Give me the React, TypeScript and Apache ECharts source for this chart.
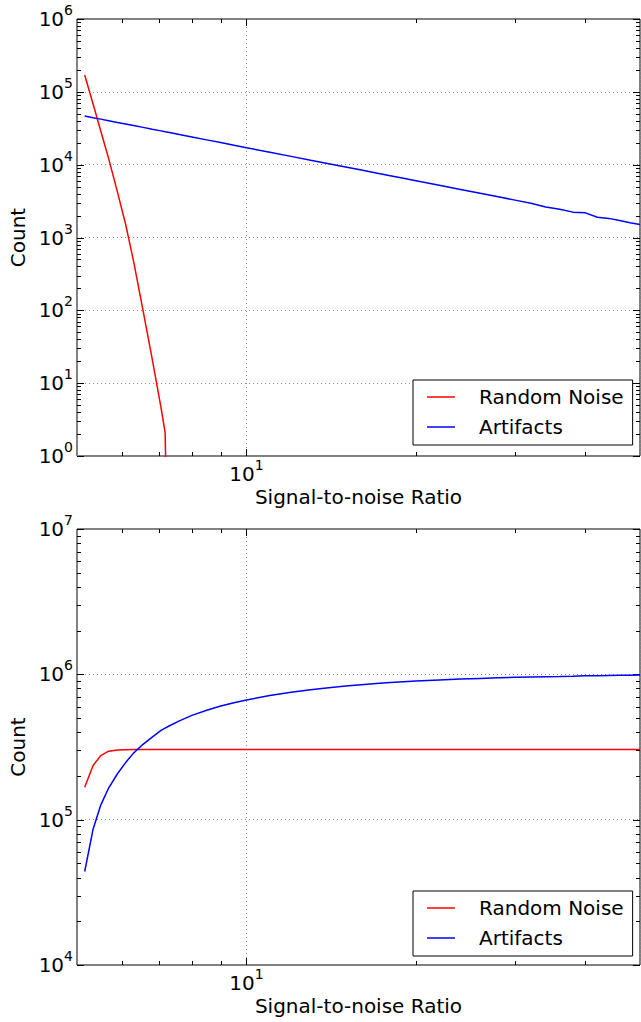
import React, { useEffect, useRef } from 'react';
import * as echarts from 'echarts';

// ---- data ----
const snr = [5.16, 5.34, 5.51, 5.69, 5.9, 6.1, 6.3, 6.55, 6.8, 7.05, 7.17, 7.3, 7.6, 8, 8.5, 9, 9.5, 10, 11, 12, 13, 14, 15, 16, 17, 18, 19, 20, 22, 24, 26, 28, 30, 32, 34, 36, 38, 40, 42, 44, 46, 48, 50];

// top panel: counts per SNR bin
const topNoise = [170000, 68000, 29000, 12200, 4200, 1520, 476, 100, 21.5, 4.6, 2.1, 0];
const topArtifacts = [46600, 44200, 42200, 40200, 38000, 36200, 34500, 32500, 30700, 29100, 28300, 27600, 25900, 24000, 21900, 20100, 18500, 17100, 14800, 13000, 11500, 10300, 9290, 8430, 7690, 7050, 6500, 6010, 5210, 4570, 4050, 3620, 3260, 2960, 2620, 2440, 2230, 2180, 1900, 1830, 1710, 1590, 1510];

// bottom panel: cumulative counts
const bottomNoise = [167000, 236000, 276000, 296000, 301000, 303000, 303500, 304000, 304000, 304000, 304000, 304000, 304000, 304000, 304000, 304000, 304000, 304000, 304000, 304000, 304000, 304000, 304000, 304000, 304000, 304000, 304000, 304000, 304000, 304000, 304000, 304000, 304000, 304000, 304000, 304000, 304000, 304000, 304000, 304000, 304000, 304000, 304000];
const bottomArtifacts = [44000, 86000, 126000, 165000, 207000, 247000, 287000, 330000, 370000, 411000, 427000, 443000, 478000, 522000, 566000, 605000, 638000, 667000, 714000, 753000, 784000, 810000, 831000, 849000, 864000, 877000, 888000, 898000, 914000, 927000, 937000, 946000, 953000, 959000, 964000, 968000, 972000, 976000, 979000, 982000, 984000, 986000, 988000];

const seriesNames = ['Random Noise', 'Artifacts'];
const xRange = [5, 50];
const topYRange = [1, 1e6];
const bottomYRange = [1e4, 1e7];
const xMajorTicks = [10];
const xMinorTicks = [6, 7, 8, 9, 20, 30, 40];
const yMantissas = [2, 3, 4, 5, 6, 7, 8, 9];
const topDecades = [0, 1, 2, 3, 4, 5, 6];
const bottomDecades = [4, 5, 6, 7];

const FONT = '"DejaVu Sans", sans-serif';
const RED = '#ff0000';
const BLUE = '#0000ff';

function pairs(xs: number[], ys: number[]) {
  return ys.map((v, i) => [xs[i], v > 0 ? v : 1e-3]);
}

function yTickData(decades: number[], xMin: number) {
  const out: number[][] = [];
  decades.forEach((e, i) => {
    out.push([xMin, Math.pow(10, e), 1]);
    if (i < decades.length - 1) {
      yMantissas.forEach((m) => out.push([xMin, m * Math.pow(10, e), 0]));
    }
  });
  return out;
}

function xTickData(yMin: number) {
  return [
    ...xMajorTicks.map((v) => [v, yMin, 1]),
    ...xMinorTicks.map((v) => [v, yMin, 0]),
  ];
}

const tickStyle = { stroke: '#000', lineWidth: 1 };

function renderXTick(params: any, api: any) {
  const cs = params.coordSys;
  const x = Math.round(api.coord([api.value(0), api.value(1)])[0]) + 0.5;
  const len = api.value(2) ? 7 : 4;
  const b = cs.y + cs.height;
  return {
    type: 'group',
    children: [
      { type: 'line', shape: { x1: x, y1: b, x2: x, y2: b - len }, style: tickStyle },
      { type: 'line', shape: { x1: x, y1: cs.y, x2: x, y2: cs.y + len }, style: tickStyle },
    ],
  };
}

function renderYTick(params: any, api: any) {
  const cs = params.coordSys;
  const y = Math.round(api.coord([api.value(0), api.value(1)])[1]) + 0.5;
  const len = api.value(2) ? 7 : 4;
  const r = cs.x + cs.width;
  return {
    type: 'group',
    children: [
      { type: 'line', shape: { x1: cs.x, y1: y, x2: cs.x + len, y2: y }, style: tickStyle },
      { type: 'line', shape: { x1: r, y1: y, x2: r - len, y2: y }, style: tickStyle },
    ],
  };
}

const rich = {
  b: { fontSize: 20, fontFamily: FONT, color: '#000' },
  s: { fontSize: 14, fontFamily: FONT, color: '#000', padding: [0, 0, 18, 0] },
};

function powFormatter(v: number) {
  const e = Math.log10(v);
  const r = Math.round(e);
  if (Math.abs(e - r) > 1e-6) return '';
  return `{b|10}{s|${r}}`;
}

const gridLine = { show: true, lineStyle: { color: '#8c8c8c', width: 1, type: [1, 3] } };
const nameStyle = { fontSize: 20, fontFamily: FONT, color: '#000' };

function xAxisCfg(gridIndex: number) {
  return {
    type: 'log',
    logBase: 10,
    gridIndex,
    min: xRange[0],
    max: xRange[1],
    name: 'Signal-to-noise Ratio',
    nameLocation: 'middle',
    nameGap: 31,
    nameMoveOverlap: false,
    nameTextStyle: nameStyle,
    axisLine: { show: false },
    axisTick: { show: false },
    axisLabel: { formatter: powFormatter, rich, margin: 2, showMinLabel: false, showMaxLabel: false },
    splitLine: gridLine,
  };
}

function yAxisCfg(gridIndex: number, range: number[]) {
  return {
    type: 'log',
    logBase: 10,
    gridIndex,
    min: range[0],
    max: range[1],
    name: 'Count',
    nameLocation: 'middle',
    nameRotate: 90,
    nameGap: 49,
    nameMoveOverlap: false,
    nameTextStyle: nameStyle,
    axisLine: { show: false },
    axisTick: { show: false },
    axisLabel: { formatter: powFormatter, rich, margin: 4 },
    splitLine: gridLine,
  };
}

function legendCfg(top: number) {
  return {
    data: seriesNames,
    orient: 'vertical',
    left: 413,
    top,
    icon: 'rect',
    itemWidth: 28,
    itemHeight: 1.5,
    itemGap: 10,
    padding: [7, 9, 8, 14],
    backgroundColor: '#fff',
    borderColor: '#000',
    borderWidth: 1,
    borderRadius: 0,
    textStyle: { fontSize: 20, fontFamily: FONT, color: '#000', lineHeight: 20, padding: [0, 0, 0, 19] },
  };
}

function lineSeries(name: string, idx: number, data: number[][], color: string) {
  return {
    type: 'line',
    name,
    xAxisIndex: idx,
    yAxisIndex: idx,
    data,
    symbol: 'none',
    showSymbol: false,
    clip: true,
    lineStyle: { color, width: 1.5 },
    itemStyle: { color },
    emphasis: { disabled: true },
  };
}

const option = {
  animation: false,
  backgroundColor: '#fff',
  grid: [
    { left: 77, top: 19, width: 563, height: 437, show: true, borderColor: '#000', borderWidth: 1, backgroundColor: 'transparent' },
    { left: 77, top: 529, width: 563, height: 436, show: true, borderColor: '#000', borderWidth: 1, backgroundColor: 'transparent' },
  ],
  xAxis: [xAxisCfg(0), xAxisCfg(1)],
  yAxis: [yAxisCfg(0, topYRange), yAxisCfg(1, bottomYRange)],
  legend: [legendCfg(380), legendCfg(891)],
  series: [
    lineSeries(seriesNames[0], 0, pairs(snr, topNoise), RED),
    lineSeries(seriesNames[1], 0, pairs(snr, topArtifacts), BLUE),
    lineSeries(seriesNames[0], 1, pairs(snr, bottomNoise), RED),
    lineSeries(seriesNames[1], 1, pairs(snr, bottomArtifacts), BLUE),
    { type: 'custom', xAxisIndex: 0, yAxisIndex: 0, data: xTickData(topYRange[0]), renderItem: renderXTick, silent: true, clip: false },
    { type: 'custom', xAxisIndex: 0, yAxisIndex: 0, data: yTickData(topDecades, xRange[0]), renderItem: renderYTick, silent: true, clip: false },
    { type: 'custom', xAxisIndex: 1, yAxisIndex: 1, data: xTickData(bottomYRange[0]), renderItem: renderXTick, silent: true, clip: false },
    { type: 'custom', xAxisIndex: 1, yAxisIndex: 1, data: yTickData(bottomDecades, xRange[0]), renderItem: renderYTick, silent: true, clip: false },
  ],
};

export default function App() {
  const ref = useRef<HTMLDivElement>(null);
  useEffect(() => {
    const chart = echarts.init(ref.current as HTMLDivElement, null, { renderer: 'svg' });
    chart.setOption(option as any);
    return () => chart.dispose();
  }, []);
  return (
    <div
      ref={ref}
      style={{ position: 'absolute', left: 0, top: 0, width: 641, height: 1022, background: '#fff' }}
    />
  );
}
